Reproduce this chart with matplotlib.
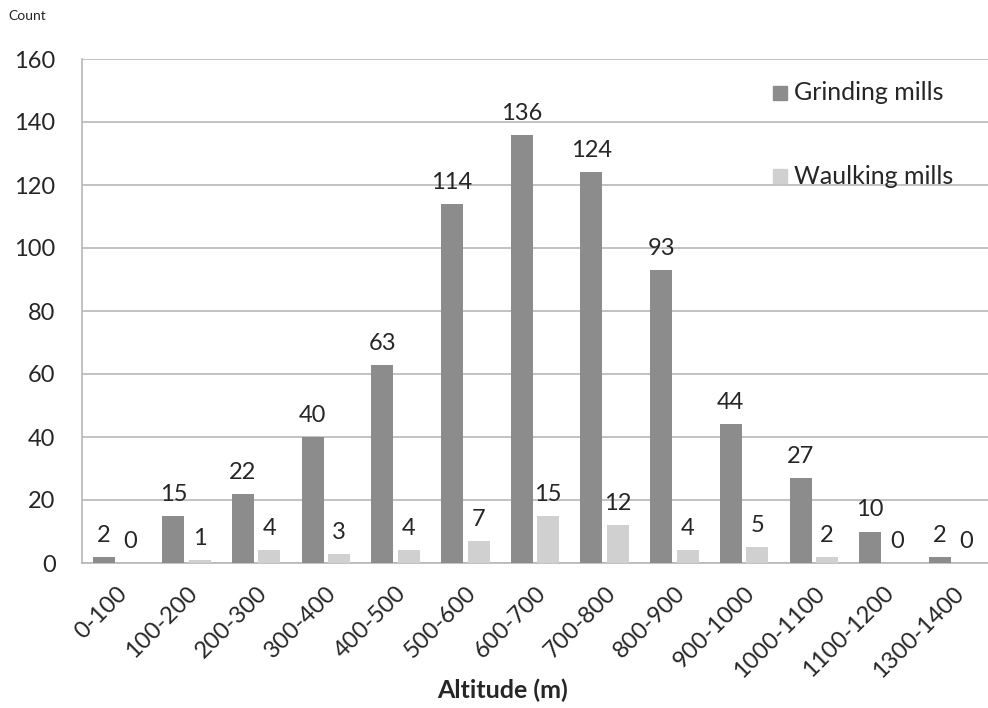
import matplotlib
matplotlib.use("Agg")
import matplotlib.pyplot as plt
import numpy as np

plt.rcParams['font.family'] = ['Lato', 'DejaVu Sans']

altitude_bands = ["0-100", "100-200", "200-300", "300-400", "400-500", "500-600",
                  "600-700", "700-800", "800-900", "900-1000", "1000-1100",
                  "1100-1200", "1300-1400"]
grinding_mills = [2, 15, 22, 40, 63, 114, 136, 124, 93, 44, 27, 10, 2]
waulking_mills = [0, 1, 4, 3, 4, 7, 15, 12, 4, 5, 2, 0, 0]

grind_color = "#8c8c8c"
waulk_color = "#d0d0d0"
text_color = "#262626"
grid_color = "#b8b8b8"

fig = plt.figure(figsize=(9.88, 7.08), dpi=100)
ax = fig.add_axes([82/988, 1-563/708, 1-82/988, (563-59)/708])

x = np.arange(len(altitude_bands))
w = 0.315
off = 0.19
ax.bar(x - off, grinding_mills, width=w, color=grind_color, zorder=3)
ax.bar(x + off, waulking_mills, width=w, color=waulk_color, zorder=3)

for xi, v in zip(x, grinding_mills):
    ax.text(xi - off, v + 3.5, str(v), ha='center', va='bottom', fontsize=17, color=text_color)
for xi, v in zip(x, waulking_mills):
    ax.text(xi + off, v + 3.5, str(v), ha='center', va='bottom', fontsize=17, color=text_color)

ax.set_xlim(-0.5, len(altitude_bands) - 0.5)
ax.set_ylim(0, 160)
ax.set_yticks(np.arange(0, 161, 20))
ax.yaxis.grid(True, color=grid_color, linewidth=1.2, zorder=0)
ax.set_axisbelow(True)
for s in ['top', 'right']:
    ax.spines[s].set_visible(False)
for s in ['left', 'bottom']:
    ax.spines[s].set_color(grid_color)
    ax.spines[s].set_linewidth(1.2)
ax.tick_params(axis='both', length=0, colors=text_color)
ax.tick_params(axis='y', labelsize=17, pad=19)
ax.set_xticks(x)
ax.set_xticklabels(altitude_bands, rotation=45, ha='right', rotation_mode='anchor',
                   fontsize=17, color=text_color)
ax.tick_params(axis='x', pad=14)

fig.text(8/988, 1-16/708, "Count", fontsize=10, color=text_color, va='center')
fig.text(503/988, 1-690/708, "Altitude (m)", fontsize=18, fontweight='bold',
         color=text_color, ha='center', va='center')

# legend entries placed manually in the upper right
for yy, col, lab in [(93, grind_color, "Grinding mills"), (176, waulk_color, "Waulking mills")]:
    fig.patches.append(plt.Rectangle((773/988, 1-(yy+7)/708), 14/988, 14/708,
                                     transform=fig.transFigure, color=col, figure=fig))
    fig.text(794/988, 1-yy/708, lab, fontsize=18, color=text_color, va='center')

fig.savefig("out.png", dpi=100, facecolor='white')
